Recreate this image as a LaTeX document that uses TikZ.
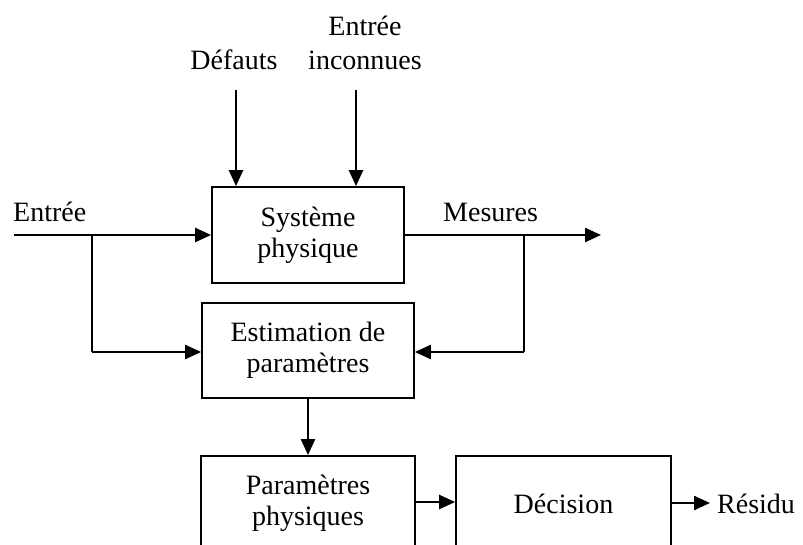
\documentclass[tikz,border=0pt]{standalone}
\usepackage{fontspec}
\setmainfont{Liberation Serif}
\usetikzlibrary{arrows.meta}
\begin{document}
\begin{tikzpicture}[x=1pt,y=-1pt,
  every node/.style={font=\fontsize{28}{31}\selectfont},
  block/.style={draw,line width=1.8pt,rectangle,inner sep=0pt,align=center},
  flow/.style={line width=2.4pt,-{Triangle[length=16pt,width=14pt]}},
  wire/.style={line width=2.4pt},
  lbl/.style={anchor=base,inner sep=0pt}]
\useasboundingbox (0,0) rectangle (803,545);
\clip (0,0) rectangle (803,545);

% blocks
\node[block,minimum width=192pt,minimum height=96pt] (sys) at (308,235) {Système\\physique};
\node[block,minimum width=212pt,minimum height=95pt] (est) at (308,350.5) {Estimation de\\paramètres};
\node[block,minimum width=214pt,minimum height=95pt] (par) at (308,503.5) {Paramètres\\physiques};
\node[block,minimum width=215pt,minimum height=95pt] (dec) at (563.5,503.5) {Décision};

% labels
\node[lbl] (defl) at (234,70) {Défauts};
\node[lbl] (inc1) at (365,36) {Entrée};
\node[lbl] (inc2) at (365,70) {inconnues};
\node[lbl,anchor=base west] (inl) at (13,222) {Entrée};
\node[lbl,anchor=base west] (mesl) at (443,222) {Mesures};
\node[lbl,anchor=base west] (resl) at (717,513) {Résidu};

% connector end points
\coordinate (din) at (236,90);
\coordinate (uin) at (356,90);
\coordinate (ein) at (14,235);
\coordinate (eout) at (601,235);
\coordinate (bl) at (92,235);
\coordinate (br) at (524,235);
\coordinate (rout) at (710,503);

% connectors
\draw[flow] (din) -- (din |- sys.north);
\draw[flow] (uin) -- (uin |- sys.north);
\draw[flow] (ein) -- (sys.west);
\draw[flow] (sys.east) -- (eout);
\draw[wire] (bl) -- (92,352);
\draw[flow] (92,352) -- (est.west |- 0,352);
\draw[wire] (br) -- (524,352);
\draw[flow] (524,352) -- (est.east |- 0,352);
\draw[flow] (est.south) -- (par.north);
\draw[flow] (par.east |- 0,502) -- (dec.west |- 0,502);
\draw[flow] (dec.east |- rout) -- (rout);
\end{tikzpicture}
\end{document}
